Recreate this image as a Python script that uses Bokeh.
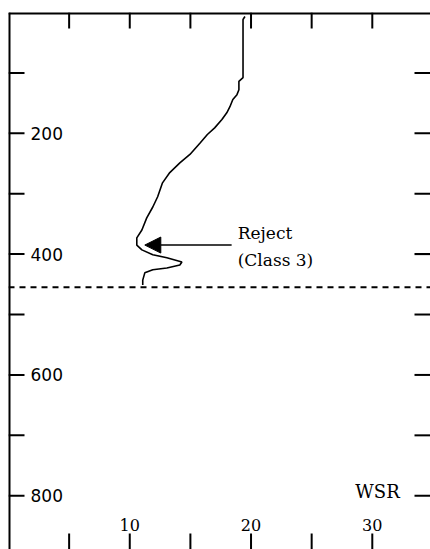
import math
from bokeh.plotting import figure
from bokeh.models import Span, Arrow, NormalHead
from bokeh.core.properties import value
from bokeh.embed import file_html
from bokeh.resources import INLINE

# ---- data ----
wsr = [19.5, 19.34, 19.34, 19.0, 19.0, 18.84, 18.5, 18.26, 18.0, 17.6, 17.0, 16.4,
       15.8, 14.96, 14.13, 13.3, 12.7, 12.3, 11.9, 11.4, 11.0, 10.58, 10.58, 11.0,
       11.9, 13.06, 14.3, 14.13, 13.06, 11.9, 11.24, 11.07, 11.07]
pres = [6.6, 11.6, 107.8, 114, 128, 136, 144, 156, 166, 177, 191, 202,
        216, 235, 249, 265, 282, 305, 322, 340, 360, 373, 385, 393,
        401, 406, 413, 418, 423, 426, 431, 443, 451]

reject_level = 455
y_ticks = [100, 200, 300, 400, 500, 600, 700, 800]
y_labels = [200, 400, 600, 800]
x_ticks = [5, 10, 15, 20, 25, 30]
x_labels = [10, 20, 30]

arrow_start = (18.4, 385)
arrow_end = (11.24, 385)
note_lines = ["Reject", "(Class 3)"]
note_x = [18.9, 18.9]
note_y = [365, 410]
series_name = "WSR"
series_name_pos = (28.6, 793)

X_RANGE = (0, 34.8)
Y_RANGE = (889, 0)

p = figure(width=430, height=549, x_range=X_RANGE, y_range=Y_RANGE,
           output_backend="svg", toolbar_location=None,
           x_axis_location=None, y_axis_location=None,
           min_border_left=8, min_border_right=0,
           min_border_top=12, min_border_bottom=0)
p.grid.visible = False
p.outline_line_color = None
p.background_fill_color = "white"
p.border_fill_color = "white"

# frame lines (left and top)
p.add_layout(Span(location=X_RANGE[0], dimension="height", line_color="black", line_width=4))
p.add_layout(Span(location=Y_RANGE[1], dimension="width", line_color="black", line_width=4))

TICK = 16
# left ticks (pointing right)
p.ray(x=[X_RANGE[0]] * len(y_ticks), y=y_ticks, length=TICK, length_units="screen",
      angle=0, line_color="black", line_width=2)
# right ticks (pointing left)
p.ray(x=[X_RANGE[1]] * len(y_ticks), y=y_ticks, length=TICK, length_units="screen",
      angle=math.pi, line_color="black", line_width=2)
# top ticks (pointing down)
p.ray(x=x_ticks, y=[Y_RANGE[1]] * len(x_ticks), length=TICK, length_units="screen",
      angle=-math.pi / 2, line_color="black", line_width=2)
# bottom ticks (pointing up)
p.ray(x=x_ticks, y=[Y_RANGE[0]] * len(x_ticks), length=TICK, length_units="screen",
      angle=math.pi / 2, line_color="black", line_width=2)

# dashed reject level
p.add_layout(Span(location=reject_level, dimension="width", line_color="black",
                  line_width=2, line_dash="6 5"))

# curve
p.line(wsr, pres, line_color="black", line_width=1.6)

# arrow
p.add_layout(Arrow(end=NormalHead(size=16, fill_color="black", line_color="black"),
                   x_start=arrow_start[0], y_start=arrow_start[1],
                   x_end=arrow_end[0], y_end=arrow_end[1],
                   line_color="black", line_width=1.5))

# annotation text
p.text(x=note_x, y=note_y, text=note_lines, text_font=value("DejaVu Serif"),
       text_font_size="17px", text_color="black", text_baseline="middle",
       text_align="left")
p.text(x=[series_name_pos[0]], y=[series_name_pos[1]], text=[series_name],
       text_font=value("DejaVu Serif"), text_font_size="18px", text_color="black",
       text_baseline="middle", text_align="left")

# y tick labels inside
p.text(x=[X_RANGE[0]] * len(y_labels), y=y_labels, text=[str(v) for v in y_labels],
       x_offset=22, text_font=value("DejaVu Sans"), text_font_size="17px",
       text_color="black", text_baseline="middle", text_align="left")

# x tick labels inside, above bottom ticks
p.text(x=x_labels, y=[Y_RANGE[0]] * len(x_labels), text=[str(v) for v in x_labels],
       y_offset=-25, text_font=value("DejaVu Serif"), text_font_size="16px",
       text_color="black", text_baseline="middle", text_align="center")

open("out.html", "w").write(file_html(p, INLINE))
